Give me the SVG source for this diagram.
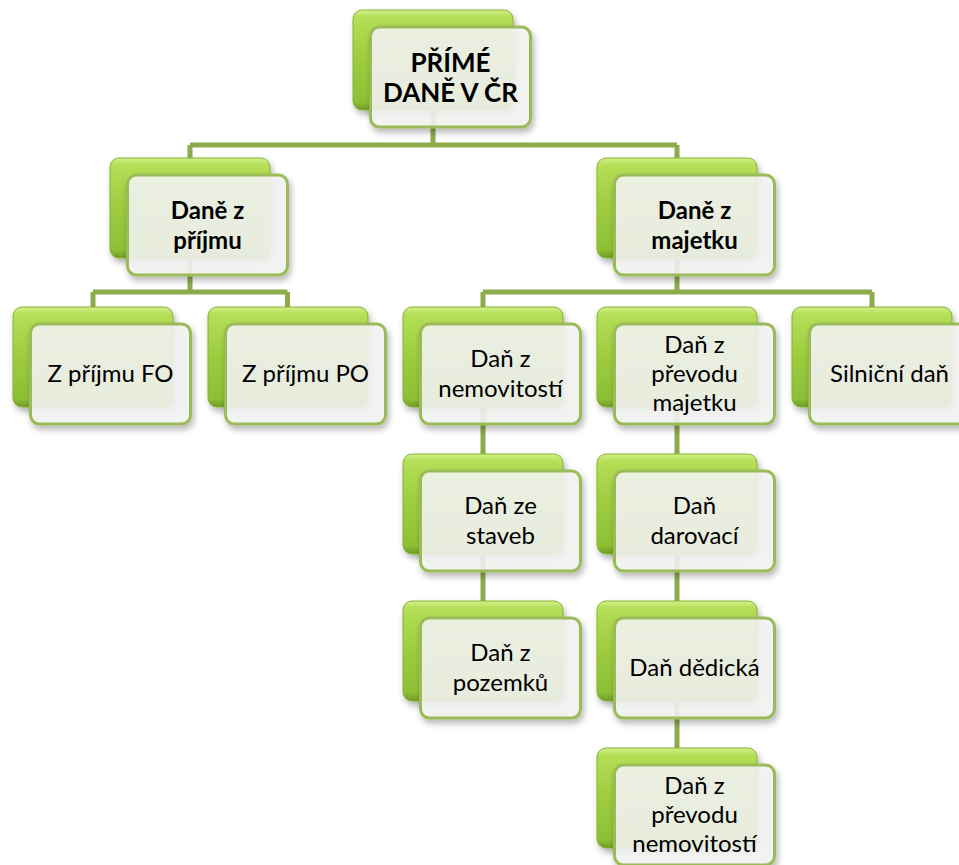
<svg xmlns="http://www.w3.org/2000/svg" width="959" height="865" viewBox="0 0 959 865">
<defs>
<linearGradient id="g" x1="0" y1="0" x2="0" y2="1">
<stop offset="0" stop-color="#d3f08c"/>
<stop offset="0.07" stop-color="#b4df57"/>
<stop offset="0.5" stop-color="#9dcc3f"/>
<stop offset="0.92" stop-color="#8dbf35"/>
<stop offset="1" stop-color="#6f9a26"/>
</linearGradient>
<filter id="sh" x="-10%" y="-10%" width="125%" height="130%">
<feDropShadow dx="2" dy="4" stdDeviation="3" flood-color="#000" flood-opacity="0.3"/>
</filter>
<symbol id="box" overflow="visible">
<rect class="back" x="0" y="0" width="160" height="100" rx="9"/>
<rect class="front" x="17.5" y="17" width="160" height="100" rx="9"/>
</symbol>
</defs>
<style>
.back{fill:url(#g);stroke:#86b232;stroke-width:1;filter:url(#sh)}
.front{fill:#f5f5f3;fill-opacity:0.88;stroke:#9bbb59;stroke-width:3;filter:url(#sh)}
.conn{fill:none;stroke:#8eab4c;stroke-width:5}
text{font-family:Lato,"Open Sans","Liberation Sans",sans-serif;font-size:24px;fill:#000;text-anchor:middle}
.b{font-weight:bold}
.t{font-size:26px}
</style>
<g id="connectors">
<path class="conn" d="M433 60V145M190 145H677M190 145V208M677 145V208"/>
<path class="conn" d="M190 208V292M93 292H287.5M93 292V357M287.5 292V357"/>
<path class="conn" d="M677 208V292M483 292H872M483 292V357M872 292V357"/>
<path class="conn" d="M483 357V651"/>
<path class="conn" d="M677 357V798"/>
</g>
<g id="n0"><use href="#box" x="353" y="10"/><text class="b t" x="450.5" y="72">PŘÍMÉ</text><text class="b t" x="450.5" y="102">DANĚ V ČR</text></g>
<g id="n1"><use href="#box" x="110" y="158"/><text class="b" x="207.5" y="219">Daně z</text><text class="b" x="207.5" y="249">příjmu</text></g>
<g id="n2"><use href="#box" x="597" y="158"/><text class="b" x="694.5" y="219">Daně z</text><text class="b" x="694.5" y="249">majetku</text></g>
<g id="n3"><use href="#box" x="13" y="307"/><text x="110.5" y="382">Z příjmu FO</text></g>
<g id="n4"><use href="#box" x="208" y="307"/><text x="305.5" y="382">Z příjmu PO</text></g>
<g id="n5"><use href="#box" x="403" y="307"/><text x="500.5" y="367">Daň z</text><text x="500.5" y="397">nemovitostí</text></g>
<g id="n6"><use href="#box" x="597" y="307"/><text x="694.5" y="353">Daň z</text><text x="694.5" y="382">převodu</text><text x="694.5" y="411">majetku</text></g>
<g id="n7"><use href="#box" x="792" y="307"/><text x="889.5" y="382">Silniční daň</text></g>
<g id="n8"><use href="#box" x="403" y="454"/><text x="500.5" y="514">Daň ze</text><text x="500.5" y="544">staveb</text></g>
<g id="n9"><use href="#box" x="403" y="601"/><text x="500.5" y="661">Daň z</text><text x="500.5" y="691">pozemků</text></g>
<g id="n10"><use href="#box" x="597" y="454"/><text x="694.5" y="514">Daň</text><text x="694.5" y="544">darovací</text></g>
<g id="n11"><use href="#box" x="597" y="601"/><text x="694.5" y="676">Daň dědická</text></g>
<g id="n12"><use href="#box" x="597" y="748"/><text x="694.5" y="794">Daň z</text><text x="694.5" y="823">převodu</text><text x="694.5" y="852">nemovitostí</text></g>
</svg>
